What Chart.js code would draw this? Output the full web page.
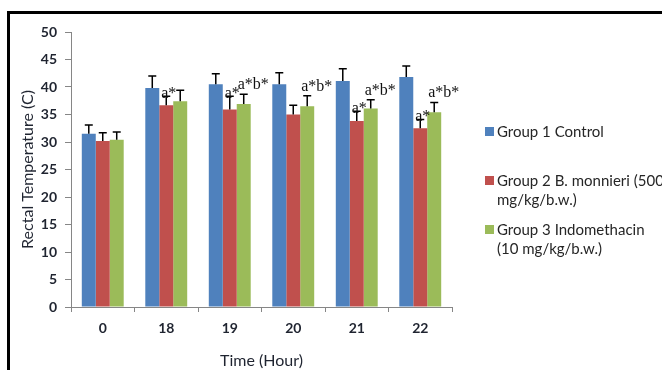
<!DOCTYPE html>
<html>
<head>
<meta charset="utf-8">
<script src="https://cdn.jsdelivr.net/npm/chart.js@4/dist/chart.umd.min.js"></script>
<style>
  html, body { margin: 0; padding: 0; background: #fff; }
  #wrap { position: relative; width: 662px; height: 370px; overflow: hidden; }
  #frame { position: absolute; left: 7px; top: 11px; width: 700px; height: 400px;
           border-left: 3px solid #000; border-top: 3px solid #000; }
  #chart { position: absolute; left: 0; top: 0; }
  .leg { position: absolute; left: 485px; font-family: Lato, "Open Sans", sans-serif;
         font-size: 15px; color: #262626; white-space: nowrap; line-height: 19px; }
  .leg i { position: absolute; left: 0; top: 5px; width: 9px; height: 9px; }
  .leg span { display: block; margin-left: 12px; }
</style>
</head>
<body>
<div id="wrap">
  <div id="frame"></div>
  <canvas id="chart" width="662" height="370"></canvas>
  <div id="legend"></div>
</div>
<script>
var hours = ['0', '18', '19', '20', '21', '22'];
var seriesNames = ['Group 1 Control', 'Group 2 B. monnieri (500\nmg/kg/b.w.)', 'Group 3 Indomethacin\n(10 mg/kg/b.w.)'];
var control = [31.5, 39.8, 40.5, 40.5, 41.1, 41.8];
var controlErr = [1.6, 2.2, 1.9, 2.1, 2.2, 2.0];
var monnieri = [30.2, 36.7, 35.9, 35.0, 33.8, 32.5];
var monnieriErr = [1.5, 1.6, 2.4, 1.7, 1.8, 1.6];
var indomethacin = [30.4, 37.4, 36.9, 36.5, 36.1, 35.4];
var indomethacinErr = [1.4, 2.0, 1.8, 1.9, 1.6, 1.8];
var controlMarks = ['', '', '', '', '', ''];
var monnieriMarks = ['', 'a*', 'a*', '', 'a*', 'a*'];
var indomethacinMarks = ['', '', 'a*b*', 'a*b*', 'a*b*', 'a*b*'];
var colors = ['#4F81BD', '#C0504D', '#9BBB59'];

// error bars (upward only) and significance marks
var errorBars = {
  id: 'errorBars',
  afterDatasetsDraw: function(chart) {
    var ctx = chart.ctx;
    var y = chart.scales.y;
    ctx.save();
    chart.data.datasets.forEach(function(ds, i) {
      var meta = chart.getDatasetMeta(i);
      meta.data.forEach(function(bar, j) {
        var top = y.getPixelForValue(ds.data[j] + ds.errors[j]);
        ctx.strokeStyle = '#000';
        ctx.lineWidth = 1.5;
        ctx.beginPath();
        ctx.moveTo(bar.x, bar.y);
        ctx.lineTo(bar.x, top);
        ctx.moveTo(bar.x - 4, top);
        ctx.lineTo(bar.x + 4, top);
        ctx.stroke();
        if (ds.marks[j]) {
          ctx.fillStyle = '#111';
          ctx.font = '16px "Liberation Serif", serif';
          ctx.textBaseline = 'alphabetic';
          ctx.textAlign = 'left';
          var left = bar.x - bar.width / 2;
          if (i == 1) ctx.fillText(ds.marks[j], left + 2, top + 2);
          else ctx.fillText(ds.marks[j], left + 1, top - 5);
        }
      });
    });
    ctx.restore();
  }
};

var chart = new Chart(document.getElementById('chart'), {
  type: 'bar',
  data: {
    labels: hours,
    datasets: [
      { label: seriesNames[0], data: control, errors: controlErr, marks: controlMarks, backgroundColor: colors[0] },
      { label: seriesNames[1], data: monnieri, errors: monnieriErr, marks: monnieriMarks, backgroundColor: colors[1] },
      { label: seriesNames[2], data: indomethacin, errors: indomethacinErr, marks: indomethacinMarks, backgroundColor: colors[2] }
    ]
  },
  options: {
    responsive: false,
    animation: false,
    categoryPercentage: 0.66,
    barPercentage: 1.0,
    layout: { padding: { left: 18, top: 32, right: 210, bottom: 0 } },
    plugins: {
      legend: { display: false },
      tooltip: { enabled: false }
    },
    scales: {
      x: {
        afterFit: function(scale) { scale.height = 63; },
        grid: { drawOnChartArea: false, offset: true, tickLength: 5, color: '#868686' },
        border: { color: '#868686', width: 1 },
        ticks: { color: '#1f2430', padding: 8, font: { family: 'Lato', size: 14, weight: 'bold' } },
        title: { display: true, text: 'Time (Hour)', color: '#1f2430', padding: { top: 5, bottom: 0 },
                 font: { family: 'Lato', size: 16 } }
      },
      y: {
        min: 0,
        max: 50,
        afterFit: function(scale) { scale.width = 53; },
        grid: { drawOnChartArea: false, tickLength: 6, color: '#868686' },
        border: { color: '#868686', width: 1 },
        ticks: { stepSize: 5, color: '#1f2430', padding: 8, font: { family: 'Lato', size: 14, weight: 'bold' } },
        title: { display: true, text: 'Rectal Temperature (C)', color: '#1f2430', padding: { top: 0, bottom: 0 },
                 font: { family: 'Lato', size: 16 } }
      }
    }
  },
  plugins: [errorBars]
});

// legend to the right, built from the datasets
var legendTops = [122, 171, 220];
var legend = document.getElementById('legend');
chart.data.datasets.forEach(function(ds, i) {
  var item = document.createElement('div');
  item.className = 'leg';
  item.style.top = legendTops[i] + 'px';
  var box = document.createElement('i');
  box.style.background = ds.backgroundColor;
  item.appendChild(box);
  ds.label.split('\n').forEach(function(line) {
    var s = document.createElement('span');
    s.textContent = line;
    item.appendChild(s);
  });
  legend.appendChild(item);
});
</script>
</body>
</html>
